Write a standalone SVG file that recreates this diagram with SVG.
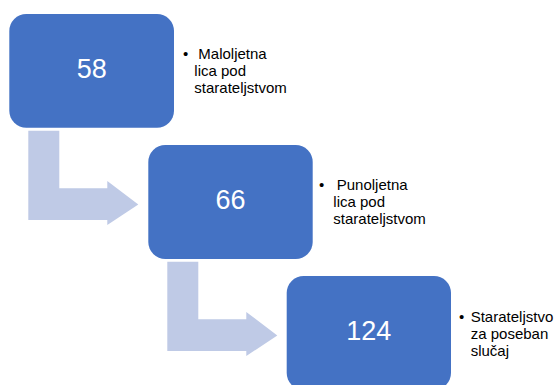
<svg xmlns="http://www.w3.org/2000/svg" width="555" height="385" viewBox="0 0 555 385">
<style>
.box{fill:#4472C4;}
.num{font-family:"Liberation Sans",Arial,sans-serif;font-size:27px;fill:#FFFFFF;text-anchor:middle;}
.lbl{font-family:"Liberation Sans",Arial,sans-serif;font-size:15px;fill:#000000;}
.arrow{fill:#BFCAE6;}
</style>
<rect width="555" height="385" fill="#FFFFFF"/>
<g id="connectors">
<path class="arrow" d="M28.3,130.7 H59.3 V188.3 H107.3 V181 L138.3,204.5 L107.3,225 V220 H28.3 Z"/>
<path class="arrow" d="M167.3,261.7 H198.3 V319.3 H246.3 V312 L277.3,335.5 L246.3,356 V351 H167.3 Z"/>
</g>
<g id="node1">
<rect class="box" x="9.3" y="14" width="164.7" height="113.7" rx="17" ry="17"/>
<text class="num" x="91.7" y="78.3">58</text>
<text class="lbl" x="183" y="59">•</text>
<text class="lbl" x="198.3" y="59">Maloljetna</text>
<text class="lbl" x="194.3" y="76">lica pod</text>
<text class="lbl" x="194.3" y="93">starateljstvom</text>
</g>
<g id="node2">
<rect class="box" x="148.3" y="145" width="164.4" height="114" rx="17" ry="17"/>
<text class="num" x="230.5" y="209.3">66</text>
<text class="lbl" x="319" y="190">•</text>
<text class="lbl" x="336.7" y="190">Punoljetna</text>
<text class="lbl" x="333.3" y="207">lica pod</text>
<text class="lbl" x="333.3" y="224">starateljstvom</text>
</g>
<g id="node3">
<rect class="box" x="286.7" y="276" width="164.3" height="114" rx="17" ry="17"/>
<text class="num" x="368.8" y="340.3">124</text>
<text class="lbl" x="459" y="321.5">•</text>
<text class="lbl" x="470.7" y="321.5">Starateljstvo</text>
<text class="lbl" x="470.7" y="338.5">za poseban</text>
<text class="lbl" x="470.7" y="355.5">slučaj</text>
</g>
</svg>
